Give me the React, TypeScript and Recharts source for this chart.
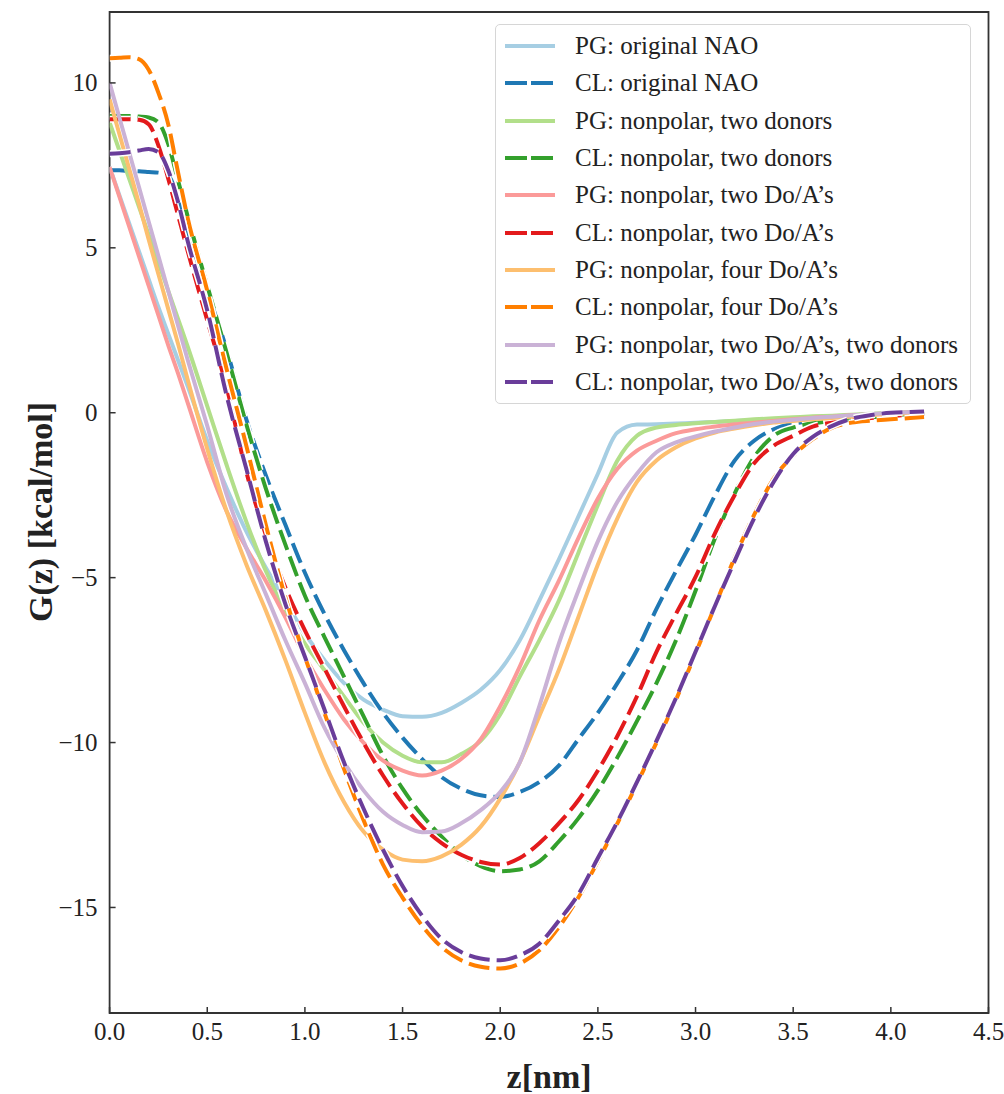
import { LineChart, Line, XAxis, YAxis, ReferenceArea } from 'recharts'

// z grid [nm] — finer near the flat start of the CL curves
const Z = [
  0, 0.05, 0.1, 0.15, 0.2, 0.25, 0.3, 0.35, 0.4,
  0.5, 0.6, 0.7, 0.8, 0.9, 1.0,
  1.1, 1.2, 1.3, 1.4, 1.5, 1.6, 1.7, 1.8, 1.9, 2.0,
  2.1, 2.2, 2.3, 2.4, 2.5, 2.6, 2.7, 2.8, 2.9, 3.0,
  3.1, 3.2, 3.3, 3.4, 3.5, 3.6, 3.7, 3.8, 3.9, 4.0, 4.1, 4.17,
]

// G(z) in kcal/mol
const PG_ORIGINAL = [
  7.45, 6.6, 5.75, 4.9, 4.05, 3.2, 2.4, 1.6, 0.8,
  -0.85, -2.3, -3.6, -4.7, -5.7, -6.7,
  -7.5, -8.2, -8.7, -9.0, -9.2, -9.22, -9.1, -8.8, -8.4, -7.8,
  -6.9, -5.7, -4.45, -3.15, -1.85, -0.6, -0.36, -0.35, -0.33, -0.3,
  -0.28, -0.25, -0.22, -0.19, -0.17, -0.14, -0.11, -0.08, -0.05, -0.02, 0.01, 0.03,
]
const CL_ORIGINAL = [
  7.35, 7.35, 7.33, 7.32, 7.3, 7.28, 7.2, 6.5, 5.5,
  3.7, 1.9, -0.2, -1.9, -3.4, -4.85,
  -6.1, -7.2, -8.2, -9.1, -9.85, -10.5, -11.05, -11.4, -11.6, -11.65,
  -11.5, -11.2, -10.7, -9.9, -9.1, -8.2, -7.2, -5.95, -4.8, -3.7,
  -2.5, -1.45, -0.85, -0.5, -0.33, -0.26, -0.2, -0.15, -0.1, -0.06, -0.02, 0.0,
]
const PG_TWO_DONORS = [
  8.8, 7.95, 7.1, 6.25, 5.4, 4.55, 3.7, 2.85, 2.0,
  0.2, -1.6, -3.3, -4.8, -6.0, -7.0,
  -7.8, -8.6, -9.4, -10.0, -10.4, -10.6, -10.6, -10.35, -9.95, -9.15,
  -8.0, -6.9, -5.7, -4.25, -2.8, -1.45, -0.7, -0.45, -0.37, -0.32,
  -0.28, -0.24, -0.2, -0.17, -0.14, -0.11, -0.09, -0.06, -0.03, 0.0, 0.02, 0.04,
]
const CL_TWO_DONORS = [
  9.0, 9.0, 9.0, 8.98, 8.95, 8.8, 8.15, 7.05, 5.95,
  3.85, 1.8, -0.35, -2.3, -4.0, -5.55,
  -6.8, -8.0, -9.2, -10.4, -11.4, -12.2, -12.85, -13.4, -13.75, -13.9,
  -13.85, -13.6, -13.0, -12.3, -11.45, -10.45, -9.35, -8.2, -6.9, -5.4,
  -3.8, -2.45, -1.35, -0.7, -0.45, -0.32, -0.25, -0.19, -0.14, -0.09, -0.04, -0.02,
]
const PG_TWO_DOA = [
  7.45, 6.55, 5.65, 4.75, 3.85, 2.95, 2.05, 1.2, 0.3,
  -1.5, -3.0, -4.1, -5.1, -6.2, -7.4,
  -8.4, -9.3, -10.0, -10.55, -10.85, -11.0, -10.85, -10.5, -9.9, -8.9,
  -7.7, -6.3, -5.1, -3.8, -2.6, -1.7, -1.15, -0.85, -0.62, -0.5,
  -0.42, -0.35, -0.3, -0.25, -0.2, -0.15, -0.12, -0.08, -0.05, -0.02, 0.01, 0.03,
]
const CL_TWO_DOA = [
  8.9, 8.9, 8.9, 8.88, 8.75, 8.1, 7.1, 6.0, 4.9,
  2.8, 0.75, -1.8, -3.7, -5.3, -6.6,
  -7.75, -8.9, -10.0, -11.0, -11.85, -12.55, -13.05, -13.4, -13.62, -13.7,
  -13.5, -13.05, -12.45, -11.75, -10.85, -9.8, -8.6, -7.25, -6.1, -4.98,
  -3.65, -2.5, -1.53, -1.0, -0.7, -0.42, -0.3, -0.22, -0.16, -0.1, -0.06, -0.04,
]
const PG_FOUR_DOA = [
  9.5, 8.45, 7.4, 6.35, 5.25, 4.2, 3.15, 2.1, 1.0,
  -1.1, -3.0, -4.6, -6.0, -7.5, -9.1,
  -10.6, -11.8, -12.7, -13.25, -13.55, -13.6, -13.45, -13.1, -12.55, -11.7,
  -10.6, -9.2, -7.8, -6.2, -4.6, -3.2, -2.1, -1.45, -1.05, -0.78,
  -0.6, -0.48, -0.38, -0.3, -0.25, -0.2, -0.16, -0.12, -0.08, -0.05, -0.02, 0.0,
]
const CL_FOUR_DOA = [
  10.75, 10.76, 10.78, 10.72, 10.4, 9.7, 8.75, 7.3, 5.9,
  3.7, 1.3, -1.0, -3.4, -5.6, -7.4,
  -9.1, -10.8, -12.35, -13.7, -14.7, -15.55, -16.2, -16.6, -16.8, -16.85,
  -16.7, -16.3, -15.6, -14.7, -13.6, -12.45, -11.25, -10.0, -8.7, -7.3,
  -5.85, -4.4, -3.1, -2.0, -1.3, -0.8, -0.45, -0.3, -0.24, -0.2, -0.16, -0.13,
]
const PG_DOA_DONORS = [
  10.0, 8.95, 7.9, 6.85, 5.8, 4.75, 3.7, 2.65, 1.6,
  -0.4, -2.5, -4.1, -5.5, -6.9, -8.2,
  -9.55, -10.6, -11.45, -12.1, -12.5, -12.72, -12.7, -12.45, -12.05, -11.5,
  -10.6, -8.9, -7.0, -5.4, -3.9, -2.7, -1.85, -1.2, -0.9, -0.72,
  -0.57, -0.45, -0.34, -0.27, -0.21, -0.16, -0.12, -0.08, -0.04, -0.01, 0.02, 0.04,
]
const CL_DOA_DONORS = [
  7.85, 7.87, 7.9, 7.95, 8.0, 7.9, 7.35, 6.4, 5.2,
  3.1, 0.5, -1.7, -3.9, -5.8, -7.4,
  -9.0, -10.6, -12.0, -13.25, -14.35, -15.25, -15.95, -16.35, -16.55, -16.6,
  -16.45, -16.1, -15.4, -14.6, -13.5, -12.4, -11.2, -9.95, -8.65, -7.25,
  -5.85, -4.5, -3.2, -2.1, -1.25, -0.73, -0.4, -0.18, -0.07, 0.0, 0.02, 0.04,
]

const X_TICKS = [0, 0.5, 1, 1.5, 2, 2.5, 3, 3.5, 4, 4.5]
const Y_TICKS = [-15, -10, -5, 0, 5, 10]

const SERIES = [
  { key: 'pgOrig', name: 'PG: original NAO', color: '#a6cee3', dashed: false, values: PG_ORIGINAL },
  { key: 'clOrig', name: 'CL: original NAO', color: '#1f78b4', dashed: true, values: CL_ORIGINAL },
  { key: 'pgDon', name: 'PG: nonpolar, two donors', color: '#b2df8a', dashed: false, values: PG_TWO_DONORS },
  { key: 'clDon', name: 'CL: nonpolar, two donors', color: '#33a02c', dashed: true, values: CL_TWO_DONORS },
  { key: 'pgDoa', name: 'PG: nonpolar, two Do/A\u2019s', color: '#fb9a99', dashed: false, values: PG_TWO_DOA },
  { key: 'clDoa', name: 'CL: nonpolar, two Do/A\u2019s', color: '#e31a1c', dashed: true, values: CL_TWO_DOA },
  { key: 'pgFour', name: 'PG: nonpolar, four Do/A\u2019s', color: '#fdbf6f', dashed: false, values: PG_FOUR_DOA },
  { key: 'clFour', name: 'CL: nonpolar, four Do/A\u2019s', color: '#ff7f00', dashed: true, values: CL_FOUR_DOA },
  { key: 'pgMix', name: 'PG: nonpolar, two Do/A\u2019s, two donors', color: '#cab2d6', dashed: false, values: PG_DOA_DONORS },
  { key: 'clMix', name: 'CL: nonpolar, two Do/A\u2019s, two donors', color: '#6a3d9a', dashed: true, values: CL_DOA_DONORS },
]

const FONT = '"Liberation Serif", "DejaVu Serif", serif'
const AXIS = '#333'
const DASH = '21 7'

const data = Z.map((z, i) => {
  const row: Record<string, number> = { z }
  SERIES.forEach(s => { row[s.key] = s.values[i] })
  return row
})

function XTick({ x, y, payload }: any) {
  return (
    <g>
      <line x1={x} x2={x} y1={y} y2={y - 6} stroke={AXIS} strokeWidth={1.5} />
      <text x={x} y={y + 27} textAnchor="middle" fontSize={25} fill="#222" fontFamily={FONT}>
        {payload.value.toFixed(1)}
      </text>
    </g>
  )
}

function YTick({ x, y, payload }: any) {
  const v = payload.value
  const label = v < 0 ? `\u2212${Math.abs(v)}` : `${v}`
  return (
    <g>
      <line x1={x} x2={x + 6} y1={y} y2={y} stroke={AXIS} strokeWidth={1.5} />
      <text x={x - 12} y={y + 8.5} textAnchor="end" fontSize={25} fill="#222" fontFamily={FONT}>
        {label}
      </text>
    </g>
  )
}

function Legend() {
  return (
    <div
      style={{
        position: 'absolute', left: 495, top: 24, width: 476, height: 380,
        boxSizing: 'border-box', border: '1px solid #d6d6d6', borderRadius: 5,
        background: 'rgba(255,255,255,0.85)', fontFamily: FONT, fontSize: 25, color: '#222',
      }}
    >
      {SERIES.map((s, i) => (
        <div
          key={s.key}
          style={{ position: 'absolute', left: 0, top: 21 + 37.33 * i - 15, height: 30, display: 'flex', alignItems: 'center' }}
        >
          <svg width={60} height={30} style={{ marginLeft: 9 }}>
            <line x1={0} x2={50} y1={15} y2={15} stroke={s.color} strokeWidth={4}
              strokeDasharray={s.dashed ? '22 4' : undefined} />
          </svg>
          <span style={{ marginLeft: 10, whiteSpace: 'nowrap' }}>{s.name}</span>
        </div>
      ))}
    </div>
  )
}

export default function App() {
  const lines = SERIES.flatMap(s => {
    const out = []
    if (s.dashed) {
      out.push(
        <Line key={s.key + '-halo'} dataKey={s.key} type="monotone" stroke="#fff" strokeWidth={7}
          strokeDasharray={DASH} dot={false} activeDot={false} isAnimationActive={false} legendType="none" />
      )
    }
    out.push(
      <Line key={s.key} dataKey={s.key} name={s.name} type="monotone" stroke={s.color} strokeWidth={4}
        strokeDasharray={s.dashed ? DASH : undefined} dot={false} activeDot={false} isAnimationActive={false} />
    )
    return out
  })

  return (
    <div style={{ position: 'absolute', left: 0, top: 0, width: 1004, height: 1094, background: '#fff' }}>
      <LineChart width={1004} height={1094} data={data} margin={{ top: 12, right: 15.5, bottom: 0, left: 9.6 }}>
        <XAxis
          dataKey="z" type="number" domain={[0, 4.5]} ticks={X_TICKS} interval={0}
          allowDataOverflow height={81} tickSize={0} tickMargin={0} axisLine={false} tickLine={false}
          tick={<XTick />}
          label={({ viewBox }: any) => (
            <text x={viewBox.x + viewBox.width / 2} y={1088} textAnchor="middle" fontSize={34}
              fontWeight="bold" fill="#222" fontFamily={FONT}>z[nm]</text>
          )}
        />
        <YAxis
          type="number" domain={[-18.2, 12.15]} ticks={Y_TICKS} interval={0}
          allowDataOverflow width={100} tickSize={0} tickMargin={0} axisLine={false} tickLine={false}
          tick={<YTick />}
          label={() => (
            <text x={52} y={512} transform="rotate(-90, 52, 512)" textAnchor="middle" fontSize={34}
              fontWeight="bold" fill="#222" fontFamily={FONT}>G(z) [kcal/mol]</text>
          )}
        />
        {lines}
        <ReferenceArea x1={0} x2={4.5} y1={-18.2} y2={12.15} fill="none" stroke={AXIS} strokeWidth={1.8} />
      </LineChart>
      <Legend />
    </div>
  )
}
